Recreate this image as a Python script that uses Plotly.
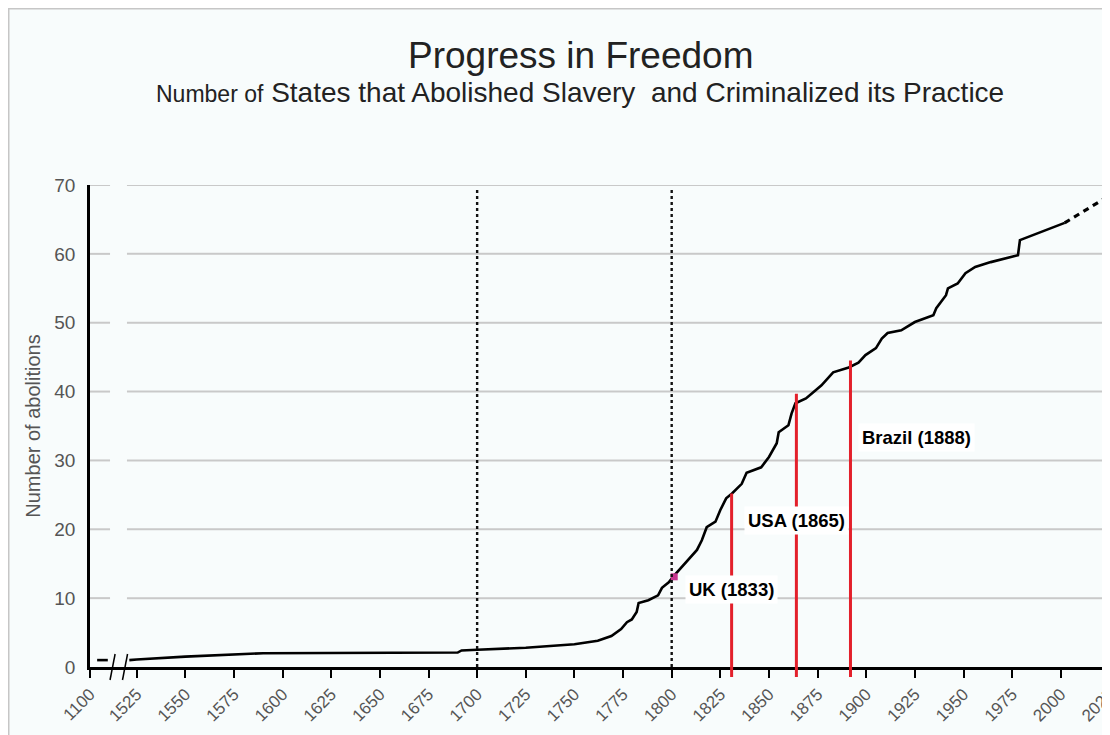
import plotly.graph_objects as go

# ------------------------- data -------------------------
TITLE = "Progress in Freedom"
SUBTITLE_SMALL = "Number of"
SUBTITLE_MAIN = "States that Abolished Slavery  and Criminalized its Practice"
Y_TITLE = "Number of abolitions"

# segment before the axis break (1100 ... break)
PRE_YEARS = [1165, 1262]
PRE_VALUES = [1.0, 1.0]

# main curve
YEARS = [1458, 1525, 1550, 1575, 1590, 1690, 1692, 1700, 1725, 1750, 1762, 1769,
         1774, 1777, 1779.5, 1782, 1783, 1788, 1793, 1795, 1798.5, 1801, 1805,
         1809, 1813, 1815.5, 1818, 1822.5, 1825, 1828, 1831, 1836, 1838.5, 1846,
         1850, 1854, 1855, 1860, 1861.6, 1863.6, 1869, 1874, 1877, 1883, 1891,
         1896, 1899.6, 1905, 1908, 1911, 1918, 1925, 1934.5, 1936, 1941, 1942,
         1947, 1951, 1956, 1964, 1978, 1979, 1988, 2002]
VALUES = [1.0, 1.1, 1.5, 1.8, 2.0, 2.1, 2.4, 2.5, 2.8, 3.3, 3.8, 4.5,
          5.5, 6.5, 6.9, 8.0, 9.3, 9.7, 10.4, 11.5, 12.3, 13.2, 14.5,
          15.8, 17.0, 18.4, 20.3, 21.1, 22.8, 24.5, 25.2, 26.6, 28.2, 29.0,
          30.5, 32.5, 34.1, 35.1, 36.8, 38.3, 39.0, 40.2, 40.9, 42.8, 43.5,
          44.2, 45.3, 46.3, 47.7, 48.5, 48.9, 50.1, 51.1, 52.1, 54.0, 55.0,
          55.7, 57.2, 58.1, 58.8, 59.8, 62.0, 63.0, 64.5]

# projected (dashed) part
PROJ_YEARS = [2002, 2024]
PROJ_VALUES = [64.5, 68.3]

# highlighted point (UK, pink)
UK_POINT_YEAR = [1801.3]
UK_POINT_VALUE = [13.1]

# red marker lines
EVENT_LABELS = ["UK (1833)", "USA (1865)", "Brazil (1888)"]
EVENT_YEARS = [1830.8, 1864.1, 1891.9]
EVENT_TOPS = [25.2, 39.7, 44.5]
EVENT_LABEL_Y = [11.2, 21.3, 33.3]

# dotted reference lines
REF_YEARS = [1700, 1800]
REF_TOP = 69.3

# axis ticks
X_TICKS = [1100] + list(range(1525, 2026, 25))
Y_TICKS = [0, 10, 20, 30, 40, 50, 60, 70]

# ------------------------- axis break mapping -------------------------
BREAK_FROM, BREAK_TO = 1100, 1525
AXIS_START = 1501.0  # axis position used for the year 1100
AXIS_END = 2025.3
BREAK_MARKS = [1512.6, 1519.0]  # positions of the two "//" marks (axis units)
GRID_GAP = (1511.3, 1520.0)


def pos(year):
    if year < BREAK_TO:
        return AXIS_START + (year - BREAK_FROM) * (BREAK_TO - AXIS_START) / (BREAK_TO - BREAK_FROM)
    return year


# ------------------------- figure -------------------------
# the page body adds an 8px margin, so the figure is 8px smaller than the window
W, H = 1102, 727
ML, MR, MT, MB = 82, 0, 177, 68
PW, PH = W - ML - MR, H - MT - MB

fig = go.Figure()

TXT = "#555555"
RED = "#e3202b"

fig.add_trace(go.Scatter(
    x=[pos(y) for y in PRE_YEARS] + [None] + [pos(y) for y in YEARS],
    y=PRE_VALUES + [None] + VALUES,
    mode="lines", line=dict(color="black", width=2.6),
    connectgaps=False, hoverinfo="skip", showlegend=False))

fig.add_trace(go.Scatter(
    x=[pos(y) for y in PROJ_YEARS], y=PROJ_VALUES,
    mode="lines", line=dict(color="black", width=3.2, dash="6px,5px"),
    hoverinfo="skip", showlegend=False))

fig.add_trace(go.Scatter(
    x=[pos(y) for y in UK_POINT_YEAR], y=UK_POINT_VALUE,
    mode="markers", marker=dict(color="#c7358f", size=7, symbol="square"),
    hoverinfo="skip", showlegend=False))

shapes = []
# frame around the whole chart
shapes.append(dict(type="rect", xref="paper", yref="paper",
                   x0=(0.5 - ML) / PW, x1=1.3, y0=-0.5, y1=(H - MB - 0.5) / PH,
                   fillcolor="#f8fcfc", line=dict(color="#c6c6c6", width=2), layer="below"))
# gridlines with gap at the axis break
for yv in Y_TICKS[1:]:
    shapes.append(dict(type="line", xref="x", yref="y", x0=AXIS_START, x1=GRID_GAP[0],
                       y0=yv, y1=yv, line=dict(color="#c9c9c9", width=2), layer="below"))
    shapes.append(dict(type="line", xref="x", yref="y", x0=GRID_GAP[1], x1=AXIS_END,
                       y0=yv, y1=yv, line=dict(color="#c9c9c9", width=2), layer="below"))
# dotted reference lines
for ry in REF_YEARS:
    shapes.append(dict(type="line", xref="x", yref="y", x0=pos(ry), x1=pos(ry),
                       y0=0, y1=REF_TOP, line=dict(color="#111111", width=2.4, dash="dot")))
# red event lines (with a stub below the axis)
for ey, top in zip(EVENT_YEARS, EVENT_TOPS):
    shapes.append(dict(type="line", xref="x", yref="y", x0=ey, x1=ey, y0=0, y1=top,
                       line=dict(color=RED, width=3)))
    shapes.append(dict(type="line", xref="x", yref="paper", x0=ey, x1=ey, y0=-10 / PH, y1=0,
                       line=dict(color=RED, width=3)))
# axis break marks
for bx in BREAK_MARKS:
    shapes.append(dict(type="line", xref="x", yref="paper",
                       x0=bx - 1.3, x1=bx + 1.3, y0=-13 / PH, y1=13 / PH,
                       line=dict(color="black", width=1.5)))

CX = (572 - ML) / PW
annotations = [
    dict(text=TITLE, xref="paper", yref="paper", x=CX, y=(H - MB - 47) / PH,
         showarrow=False, xanchor="center", yanchor="middle",
         font=dict(family="Liberation Sans, Arial, sans-serif", size=37, color="#222222")),
    dict(text=f"<span style='font-size:23px'>{SUBTITLE_SMALL}</span> {SUBTITLE_MAIN}",
         xref="paper", yref="paper", x=CX, y=(H - MB - 84) / PH,
         showarrow=False, xanchor="center", yanchor="middle",
         font=dict(family="Liberation Sans, Arial, sans-serif", size=28, color="#222222")),
]
for i, (lab, ey, ly) in enumerate(zip(EVENT_LABELS, EVENT_YEARS, EVENT_LABEL_Y)):
    last = i == len(EVENT_LABELS) - 1
    annotations.append(dict(
        text=f"<b>{lab}</b>", x=ey, y=ly, xref="x", yref="y", showarrow=False,
        xanchor="left" if last else "center", yanchor="middle",
        xshift=8 if last else 0,
        bgcolor="white", borderpad=3,
        font=dict(family="Liberation Sans, Arial, sans-serif", size=18.5, color="black")))

fig.update_layout(
    width=W, height=H,
    margin=dict(l=ML, r=MR, t=MT, b=MB, pad=0, autoexpand=False),
    paper_bgcolor="white", plot_bgcolor="rgba(0,0,0,0)",
    showlegend=False,
    shapes=shapes, annotations=annotations,
    xaxis=dict(range=[AXIS_START, AXIS_END], automargin=False,
               tickvals=[pos(t) for t in X_TICKS], ticktext=[str(t) for t in X_TICKS],
               tickangle=-45, ticks="outside", ticklen=8, tickwidth=2, tickcolor="black",
               ticklabeloverflow="allow",
               showline=True, linecolor="black", linewidth=2.5,
               showgrid=False, zeroline=False,
               tickfont=dict(family="Liberation Sans, Arial, sans-serif", size=17, color=TXT)),
    yaxis=dict(range=[0, 70], tickvals=Y_TICKS, automargin=False,
               showline=True, linecolor="black", linewidth=2.5,
               showgrid=False, zeroline=False, ticks="", ticklabelstandoff=8,
               tickfont=dict(family="Liberation Sans, Arial, sans-serif", size=19, color=TXT),
               title=dict(text=Y_TITLE, standoff=9,
                          font=dict(family="Liberation Sans, Arial, sans-serif", size=20, color=TXT))),
)

fig.write_html("out.html")
